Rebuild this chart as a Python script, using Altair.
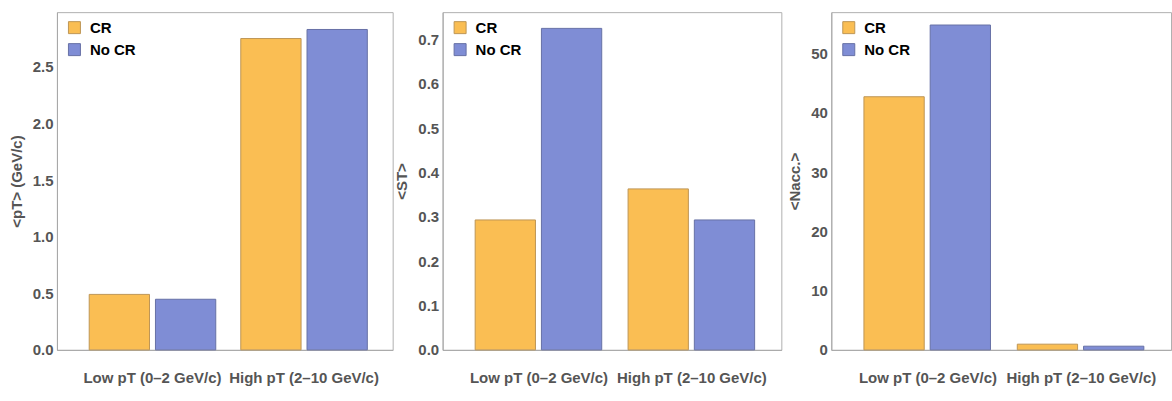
import altair as alt
import pandas as pd

bins = ["Low pT (0–2 GeV/c)", "High pT (2–10 GeV/c)"]
series = ["CR", "No CR"]

pt_cr = [0.49, 2.75]
pt_nocr = [0.447, 2.83]
st_cr = [0.293, 0.363]
st_nocr = [0.725, 0.293]
nacc_cr = [42.7, 0.96]
nacc_nocr = [54.8, 0.62]

pt_ticks = [0.0, 0.5, 1.0, 1.5, 2.0, 2.5]
st_ticks = [0.0, 0.1, 0.2, 0.3, 0.4, 0.5, 0.6, 0.7]
nacc_ticks = [0, 10, 20, 30, 40, 50]

fill_colors = ["#FABE53", "#7F8DD5"]
edge_colors = ["#BE9655", "#6670A6"]
FONT = "Liberation Sans"
GRAY = "#555555"


def panel(cr, nocr, title, ymax, ticks, fmt, width):
    df = pd.DataFrame({
        "bin": bins + bins,
        "series": [series[0]] * 2 + [series[1]] * 2,
        "value": cr + nocr,
    })
    return alt.Chart(df).mark_bar(strokeWidth=1).encode(
        x=alt.X("bin:N", sort=bins,
                scale=alt.Scale(paddingInner=0.165, paddingOuter=0.19, align=0.56),
                axis=alt.Axis(title=None, labelAngle=0, labelPadding=21, ticks=False,
                              labelOverlap=False, labelFontSize=15)),
        xOffset=alt.XOffset("series:N", sort=series,
                            scale=alt.Scale(paddingInner=0.09, paddingOuter=0)),
        y=alt.Y("value:Q",
                scale=alt.Scale(domain=[0, ymax], nice=False, zero=True),
                axis=alt.Axis(title=title, values=ticks, format=fmt, grid=False,
                              ticks=False, labelPadding=4, labelFontSize=15,
                              titleFontSize=15, titlePadding=8)),
        color=alt.Color("series:N", sort=series,
                        scale=alt.Scale(domain=series, range=fill_colors),
                        legend=alt.Legend(title=None, orient="none", legendX=10, legendY=8,
                                          symbolType="square", symbolSize=144,
                                          symbolStrokeWidth=1, labelFontSize=15,
                                          labelFontWeight="bold", labelFont=FONT,
                                          labelColor="#000000", labelOffset=8,
                                          rowPadding=5, padding=0)),
        stroke=alt.Stroke("series:N", sort=series,
                          scale=alt.Scale(domain=series, range=edge_colors),
                          legend=None),
    ).properties(width=width, height=338)


p1 = panel(pt_cr, pt_nocr, "<pT> (GeV/c)", 2.983, pt_ticks, ".1f", 336)
p2 = panel(st_cr, st_nocr, "<ST>", 0.7616, st_ticks, ".1f", 339)
p3 = panel(nacc_cr, nacc_nocr, "<Nacc.>", 56.97, nacc_ticks, "d", 340)

chart = alt.hconcat(p1, p2, p3, spacing=50, bounds="flush").resolve_scale(
    color="independent", stroke="independent", y="independent"
).resolve_legend(color="independent").properties(
    padding={"left": 8, "top": 11, "right": 0, "bottom": 0}
).configure_view(stroke="#b0b0b0").configure_axis(
    domainColor="#a8a8a8", labelFont=FONT, labelFontWeight="bold", labelColor=GRAY,
    titleFont=FONT, titleFontWeight="bold", titleColor=GRAY
)

chart.save("out.html", embed_options={"renderer": "svg", "actions": False})
